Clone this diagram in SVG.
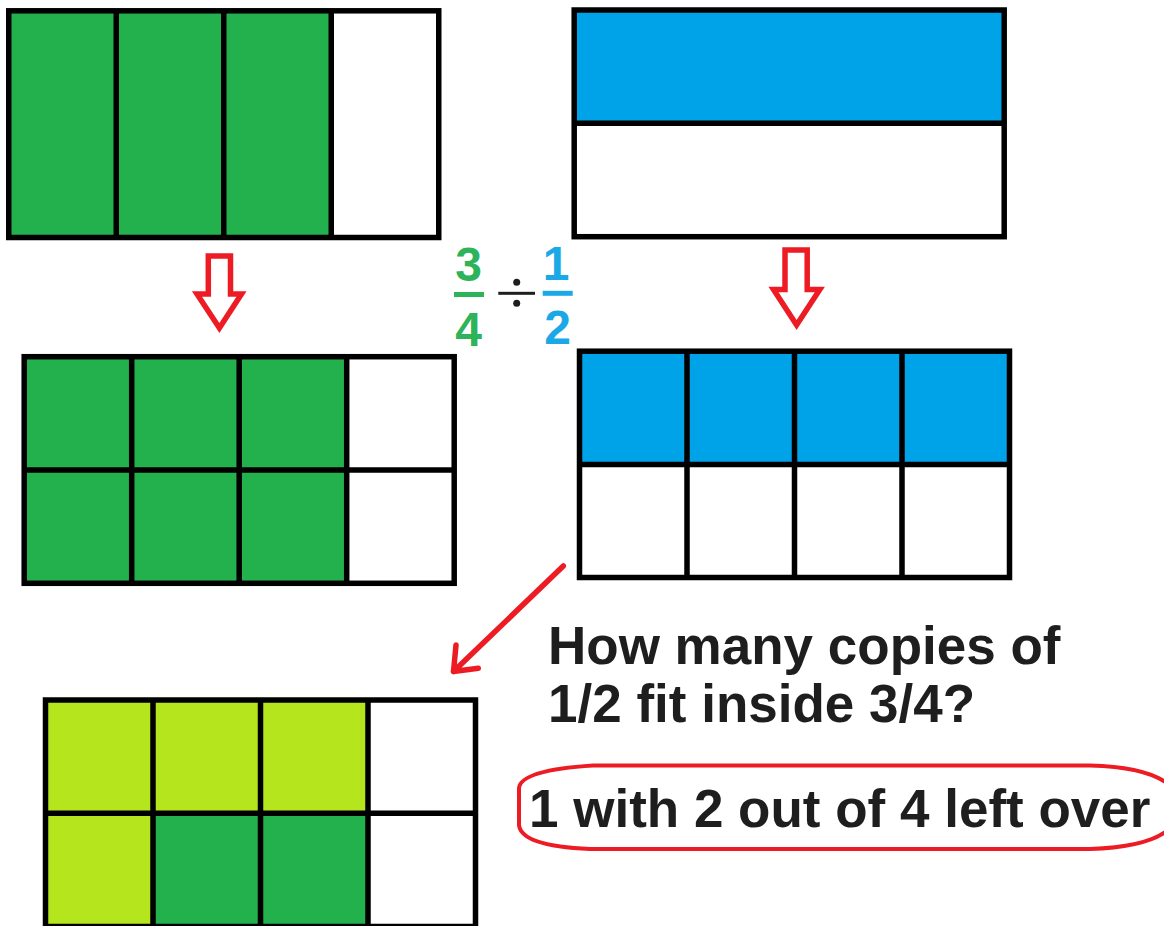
<svg xmlns="http://www.w3.org/2000/svg" width="1164" height="926" viewBox="0 0 1164 926">
<style>
.grid{fill:none;stroke:#000;stroke-width:5.5}
.g{fill:#22B14C}
.b{fill:#00A2E8}
.y{fill:#B5E61D}
.hollow{fill:#fff;stroke:#ED1C24;stroke-width:5.5;stroke-linejoin:miter}
.txt{font-family:"Liberation Sans",Arial,sans-serif;font-weight:bold;fill:#1E1E1E}
.frac{font-family:"Liberation Sans",Arial,sans-serif;font-weight:bold;font-size:48px;text-anchor:middle}
</style>
<rect width="1164" height="926" fill="#fff"/>

<g id="box1">
<rect class="g" x="8.75" y="10.8" width="322.5" height="226.7"/>
<rect class="grid" x="8.75" y="10.8" width="430" height="226.7"/>
<path class="grid" d="M116.25 10.8V237.5M223.75 10.8V237.5M331.25 10.8V237.5"/>
</g>

<g id="box2">
<rect class="b" x="574.2" y="10" width="430" height="113.3"/>
<rect class="grid" x="574.2" y="10" width="430" height="226.7"/>
<path class="grid" d="M574.2 123.3H1004.2"/>
</g>

<g id="box3">
<rect class="g" x="24.2" y="356.7" width="322.5" height="226.6"/>
<rect class="grid" x="24.2" y="356.7" width="430" height="226.6"/>
<path class="grid" d="M24.2 470H454.2M131.7 356.7V583.3M239.2 356.7V583.3M346.7 356.7V583.3"/>
</g>

<g id="box4">
<rect class="b" x="579.5" y="351.2" width="430" height="113.3"/>
<rect class="grid" x="579.5" y="351.2" width="430" height="226.3"/>
<path class="grid" d="M579.5 464.5H1009.5M687 351.2V577.5M794.5 351.2V577.5M902 351.2V577.5"/>
</g>

<g id="box5">
<rect class="y" x="45.5" y="700" width="322.5" height="113.3"/>
<rect class="y" x="45.5" y="813.3" width="107.5" height="113.2"/>
<rect class="g" x="153" y="813.3" width="215" height="113.2"/>
<rect class="grid" x="45.5" y="700" width="430" height="226.5"/>
<path class="grid" d="M45.5 813.3H475.5M153 700V926.5M260.5 700V926.5M368 700V926.5"/>
</g>

<g id="fraction">
<text class="frac" x="468.5" y="280.5" fill="#2DB35A">3</text>
<rect x="454" y="292" width="30" height="5" fill="#2DB35A"/>
<text class="frac" x="468.5" y="346" fill="#2DB35A">4</text>
<rect x="498.3" y="291.8" width="36.7" height="3" fill="#1E1E1E"/>
<circle cx="516.7" cy="282.3" r="3.5" fill="#1E1E1E"/>
<circle cx="516.7" cy="303.3" r="3.5" fill="#1E1E1E"/>
<text class="frac" x="556" y="280" fill="#1BA8E6">1</text>
<rect x="542.7" y="290.8" width="30" height="5" fill="#1BA8E6"/>
<text class="frac" x="557.5" y="343.5" fill="#1BA8E6">2</text>
</g>

<g id="question">
<text class="txt" font-size="53" x="548" y="664">How many copies of</text>
<text class="txt" font-size="53" x="548" y="722">1/2 fit inside 3/4?</text>
</g>

<g id="answer">
<path d="M593 765.5L1090 765.5Q1178 768 1180 807Q1178 846 1090 849L590 849Q521 846 519 825L519 788Q521 770 593 765.5Z" fill="none" stroke="#ED1C24" stroke-width="4"/>
<text class="txt" font-size="53" x="529" y="826.5">1 with 2 out of 4 left over</text>
</g>

<g id="connectors">
<path class="hollow" d="M208.3 256H230.5V294H241.5L219.4 328L197 294H208.3Z"/>
<path class="hollow" d="M785 250H807.2V289.5H819.8L796.6 325L773.5 289.5H785Z"/>
<path d="M563.3 566L453.5 671.5M456 645L453.5 671.5L478.3 668.3" fill="none" stroke="#ED1C24" stroke-width="5.5" stroke-linecap="round" stroke-linejoin="round"/>
</g>
</svg>
